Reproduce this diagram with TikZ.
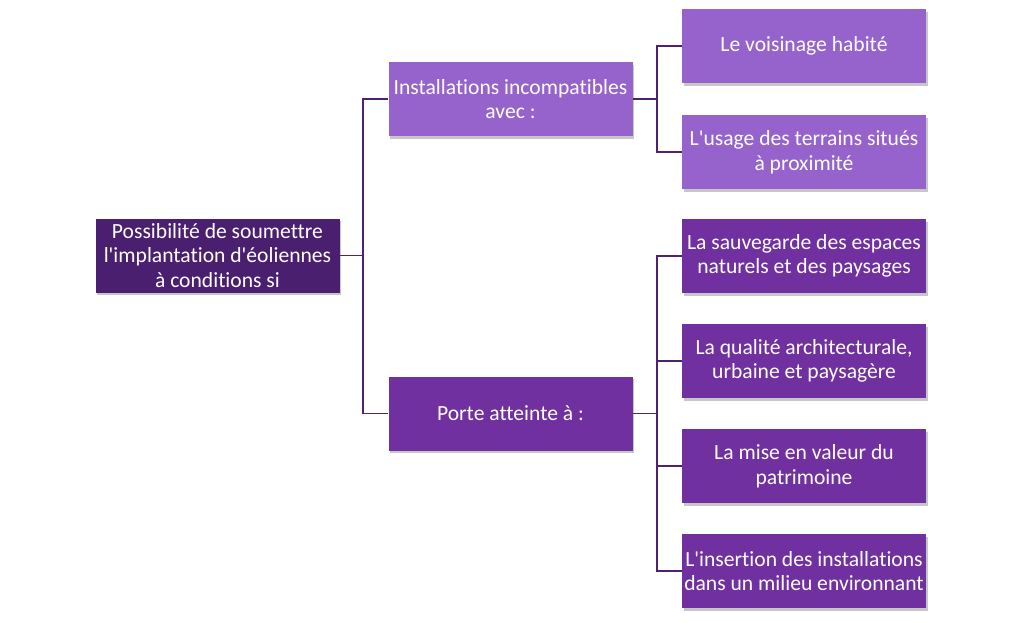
\documentclass[tikz,border=0pt]{standalone}
\usepackage{fontspec}
\setmainfont{Carlito}[Ligatures={TeXOff,CommonOff}]
\usetikzlibrary{shadows}
\definecolor{cdark}{HTML}{4B1F6F}
\definecolor{cmid}{HTML}{7030A0}
\definecolor{clight}{HTML}{9663CC}
\definecolor{cline}{HTML}{4F2270}
\begin{document}
\begin{tikzpicture}[x=1pt,y=-1pt,
  box/.style={rectangle, minimum width=244pt, minimum height=74pt, inner sep=0pt,
    text=white, align=center, font=\fontsize{21.6}{24.5}\selectfont,
    drop shadow={shadow xshift=1.5pt, shadow yshift=-2.5pt, fill=black, opacity=0.22}},
  darkbox/.style={box, fill=cdark},
  midbox/.style={box, fill=cmid},
  lightbox/.style={box, fill=clight},
  conn/.style={draw=cline, line width=1.8pt}]
\useasboundingbox[fill=white] (0,0) rectangle (1024,622);
\node[darkbox] (root) at (217.5,255.5) {Possibilité de soumettre\\l'implantation d'éoliennes\\à conditions si};
\node[lightbox] (inst) at (510.5,99) {Installations incompatibles\\avec :};
\node[midbox] (porte) at (510.5,413.5) {Porte atteinte à :};
\node[lightbox] (r1) at (804,46) {Le voisinage habité};
\node[lightbox] (r2) at (804,152) {L'usage des terrains situés\\à proximité};
\node[midbox] (r3) at (804,256) {La sauvegarde des espaces\\naturels et des paysages};
\node[midbox] (r4) at (804,361) {La qualité architecturale,\\urbaine et paysagère};
\node[midbox] (r5) at (804,466) {La mise en valeur du\\patrimoine};
\node[midbox] (r6) at (804,571) {L'insertion des installations\\dans un milieu environnant};
\coordinate (j1) at (363,255.5);
\coordinate (j2) at (657,99);
\coordinate (j3) at (657,413.5);
\draw[conn] (root.east) -- (j1);
\draw[conn] (j1) |- (inst.west);
\draw[conn] (j1) |- (porte.west);
\draw[conn] (inst.east) -- (j2);
\draw[conn] (j2) |- (r1.west);
\draw[conn] (j2) |- (r2.west);
\draw[conn] (porte.east) -- (j3);
\draw[conn] (j3) |- (r3.west);
\draw[conn] (j3) |- (r4.west);
\draw[conn] (j3) |- (r5.west);
\draw[conn] (j3) |- (r6.west);
\end{tikzpicture}
\end{document}
